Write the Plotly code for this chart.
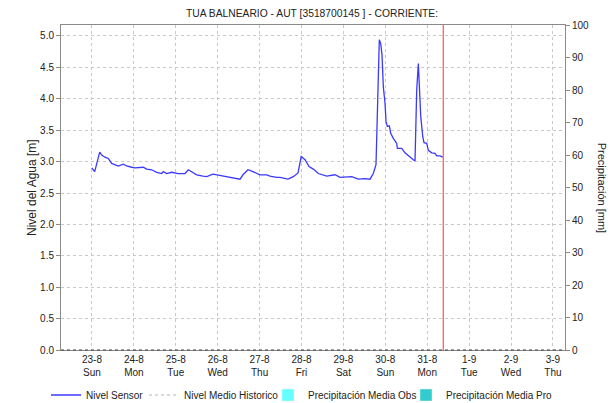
import plotly.graph_objects as go

# Nivel Sensor readings (time, level in m)
sensor_time = [
    "2020-08-22 23:50", "2020-08-23 01:33", "2020-08-23 04:25", "2020-08-23 05:44",
    "2020-08-23 07:27", "2020-08-23 09:20", "2020-08-23 11:17", "2020-08-23 13:10",
    "2020-08-23 15:04", "2020-08-23 17:56", "2020-08-23 19:53", "2020-08-23 22:44",
    "2020-08-24 00:38", "2020-08-24 05:23", "2020-08-24 07:20", "2020-08-24 10:12",
    "2020-08-24 13:04", "2020-08-24 15:55", "2020-08-24 16:50", "2020-08-24 18:47",
    "2020-08-24 21:39", "2020-08-25 01:26", "2020-08-25 05:16", "2020-08-25 07:10",
    "2020-08-25 09:17", "2020-08-25 11:58", "2020-08-25 15:35", "2020-08-25 17:42",
    "2020-08-25 21:19", "2020-08-25 23:26", "2020-08-26 03:02", "2020-08-26 05:10",
    "2020-08-26 11:38", "2020-08-26 12:46", "2020-08-26 14:29", "2020-08-26 17:21",
    "2020-08-26 20:13", "2020-08-27 00:14", "2020-08-27 04:04", "2020-08-27 05:58",
    "2020-08-27 09:48", "2020-08-27 11:41", "2020-08-27 16:16", "2020-08-27 19:18",
    "2020-08-27 22:00", "2020-08-27 23:50", "2020-08-28 02:00", "2020-08-28 04:18",
    "2020-08-28 06:46", "2020-08-28 09:37", "2020-08-28 14:26", "2020-08-28 19:11",
    "2020-08-28 22:03", "2020-08-29 04:45", "2020-08-29 08:32", "2020-08-29 12:22",
    "2020-08-29 15:14", "2020-08-29 17:07", "2020-08-29 18:40", "2020-08-29 19:25",
    "2020-08-29 19:49", "2020-08-29 20:34", "2020-08-29 21:22", "2020-08-29 22:07",
    "2020-08-29 22:52", "2020-08-29 23:50", "2020-08-30 00:24", "2020-08-30 01:09",
    "2020-08-30 02:18", "2020-08-30 03:05", "2020-08-30 04:35", "2020-08-30 06:32",
    "2020-08-30 06:53", "2020-08-30 09:24", "2020-08-30 11:17", "2020-08-30 13:11",
    "2020-08-30 16:03", "2020-08-30 17:01", "2020-08-30 17:35", "2020-08-30 17:59",
    "2020-08-30 18:55", "2020-08-30 19:29", "2020-08-30 20:17", "2020-08-30 21:26",
    "2020-08-30 22:10", "2020-08-30 23:43", "2020-08-31 00:38", "2020-08-31 02:35",
    "2020-08-31 04:28", "2020-08-31 05:26", "2020-08-31 07:20", "2020-08-31 08:53",
]
sensor_level = [
    2.90, 2.84, 3.15, 3.10, 3.07, 3.05, 2.97, 2.95,
    2.93, 2.96, 2.93, 2.91, 2.90, 2.91, 2.88, 2.87,
    2.83, 2.81, 2.84, 2.81, 2.83, 2.81, 2.81, 2.87,
    2.83, 2.79, 2.77, 2.76, 2.80, 2.79, 2.77, 2.76,
    2.73, 2.72, 2.79, 2.87, 2.84, 2.79, 2.79, 2.77,
    2.75, 2.75, 2.72, 2.76, 2.82, 3.08, 3.03, 2.92,
    2.88, 2.81, 2.77, 2.79, 2.75, 2.76, 2.72, 2.73,
    2.72, 2.81, 2.95, 3.74, 4.25, 4.94, 4.88, 4.70,
    4.19, 3.93, 3.64, 3.56, 3.57, 3.45, 3.37, 3.29,
    3.21, 3.21, 3.14, 3.09, 3.03, 3.01, 3.56, 4.14,
    4.56, 4.14, 3.72, 3.40, 3.30, 3.29, 3.18, 3.14,
    3.13, 3.09, 3.09, 3.07,
]

# series shown only in the legend (no values in this period)
historic_time, historic_level = [], []
precip_obs_time, precip_obs = [], []
precip_pro_time, precip_pro = [], []

now_marker = "2020-08-31 09:10"
x_range = ["2020-08-22 06:15", "2020-09-03 06:55"]

# page body has an 8px margin, so the figure is a bit smaller than the window
W, H = 608, 395

fig = go.Figure()

fig.add_trace(go.Scatter(
    x=sensor_time, y=sensor_level, name="Nivel Sensor", mode="lines",
    line=dict(color="#3a3aff", width=1.3), legend="legend",
))
fig.add_trace(go.Scatter(
    x=historic_time or [None], y=historic_level or [None], name="Nivel Medio Historico",
    mode="lines", line=dict(color="#b4b4b4", width=1, dash="dot"), legend="legend2",
))
fig.add_trace(go.Bar(
    x=precip_obs_time or [None], y=precip_obs or [None], name="Precipitación Media Obs",
    marker_color="#66ffff", yaxis="y2", legend="legend3",
))
fig.add_trace(go.Bar(
    x=precip_pro_time or [None], y=precip_pro or [None], name="Precipitación Media Pro",
    marker_color="#33cccc", yaxis="y2", legend="legend4",
))

# current time marker
fig.add_shape(type="line", xref="x", yref="paper", x0=now_marker, x1=now_marker,
              y0=0, y1=1, line=dict(color="#ff3030", width=1))
# dotted bottom border
fig.add_shape(type="line", xref="paper", yref="paper", x0=0, x1=1, y0=0, y1=0,
              line=dict(color="#404040", width=1.2, dash="dot"))

fig.add_annotation(text="Nivel del Agua [m]", xref="paper", yref="paper",
                   x=-0.0585, y=0.5, xanchor="center", yanchor="middle",
                   showarrow=False, textangle=-90, font=dict(size=12, color="#222"))
fig.add_annotation(text="Precipitación [mm]", xref="paper", yref="paper",
                   x=1.075, y=0.5, xanchor="center", yanchor="middle",
                   showarrow=False, textangle=90, font=dict(size=11, color="#222"))


def legend_at(px):
    return dict(orientation="h", x=px / W, xanchor="left", xref="container",
                y=1 - 387 / H, yanchor="middle", yref="container",
                font=dict(size=10, color="#222"), itemwidth=30, bgcolor="rgba(0,0,0,0)")


fig.update_layout(
    width=W, height=H,
    title=dict(text="TUA BALNEARIO - AUT [3518700145 ] - CORRIENTE:", x=0.5, y=1 - 5 / H,
               xanchor="center", yanchor="middle", font=dict(size=10.3, color="#222")),
    font=dict(family="Liberation Sans, Arial, sans-serif", size=10, color="#222"),
    paper_bgcolor="white", plot_bgcolor="white",
    margin=dict(l=53, r=51, t=17, b=53, autoexpand=False),
    showlegend=True,
    legend=legend_at(38),
    legend2=legend_at(136),
    legend3=legend_at(260),
    legend4=legend_at(398),
    xaxis=dict(
        type="date", range=x_range, dtick=86400000, tick0="2020-08-23",
        tickformat="%-d-%-m<br>%a", showgrid=True, gridcolor="#c8c8c8", griddash="dot",
        showline=True, linecolor="#8a8a8a", mirror=True, ticks="", zeroline=False,
        tickfont=dict(size=10), automargin=False,
    ),
    yaxis=dict(
        range=[0, 5.175], dtick=0.5, tickformat=".1f", showgrid=True,
        gridcolor="#c8c8c8", griddash="dot", showline=True, linecolor="#8a8a8a",
        ticks="outside", ticklen=4, tickcolor="#8a8a8a", zeroline=False, automargin=False,
    ),
    yaxis2=dict(
        range=[0, 100], dtick=10, overlaying="y", side="right", showgrid=False,
        showline=True, linecolor="#8a8a8a", ticks="outside", ticklen=4,
        tickcolor="#8a8a8a", zeroline=False, automargin=False,
    ),
)

fig.write_html("out.html")
